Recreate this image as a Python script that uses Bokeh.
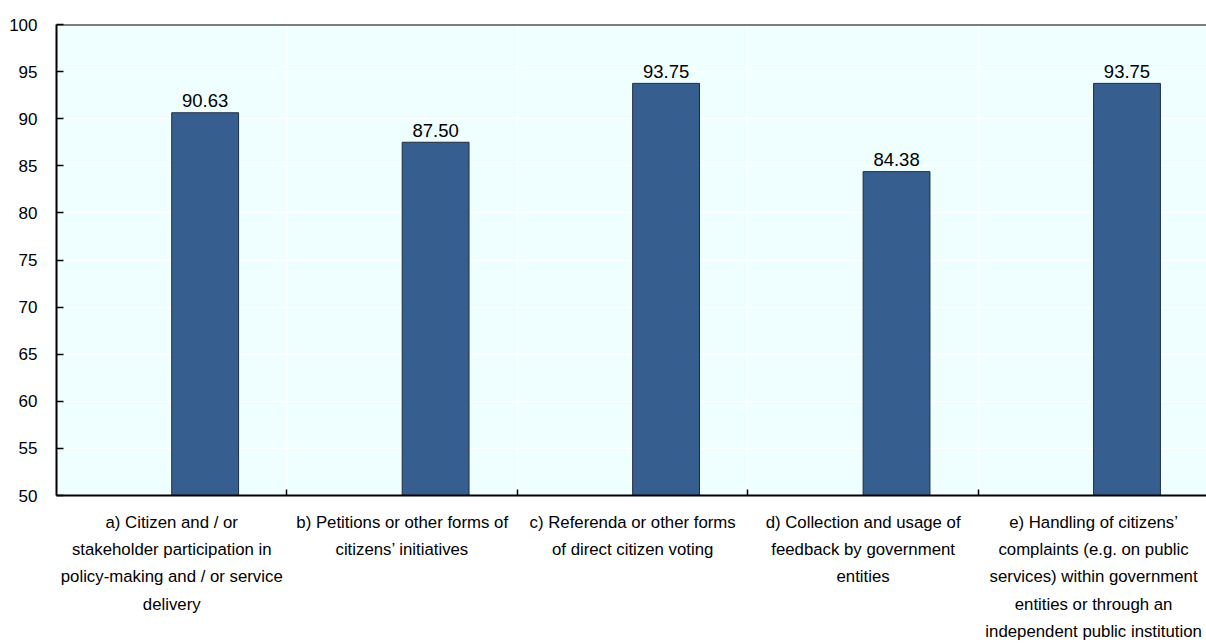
from bokeh.plotting import figure
from bokeh.models import Range1d, FixedTicker, Span, ColumnDataSource
from bokeh.core.properties import value
from bokeh.embed import file_html
from bokeh.resources import INLINE

categories = [
    "a) Citizen and / or\nstakeholder participation in\npolicy-making and / or service\ndelivery",
    "b) Petitions or other forms of\ncitizens\u2019 initiatives",
    "c) Referenda or other forms\nof direct citizen voting",
    "d) Collection and usage of\nfeedback by government\nentities",
    "e) Handling of citizens\u2019\ncomplaints (e.g. on public\nservices) within government\nentities or through an\nindependent public institution",
]
values = [90.63, 87.50, 93.75, 84.38, 93.75]
value_labels = ["90.63", "87.50", "93.75", "84.38", "93.75"]
y_ticks = [50, 55, 60, 65, 70, 75, 80, 85, 90, 95, 100]

FONT = "'Liberation Sans', Arial, sans-serif"

centers = [i + 0.5 for i in range(len(categories))]
bar_x = [c + 0.145 for c in centers]
src = ColumnDataSource(dict(x=bar_x, top=values, lab=value_labels))

p = figure(width=1206, height=643, output_backend="svg", toolbar_location=None,
           x_range=Range1d(0, 4.99), y_range=Range1d(50, 100),
           min_border_left=56, min_border_right=0, min_border_top=24, min_border_bottom=129)
p.background_fill_color = "#EFFEFF"
p.border_fill_color = "white"
p.outline_line_color = None

p.vbar(x="x", top="top", bottom=50, width=0.29, source=src,
       fill_color="#365E8F", line_color="#1E2D40", line_width=1)
p.text(x="x", y="top", text="lab", source=src, text_align="center",
       text_baseline="alphabetic", y_offset=-12,
       text_font=value(FONT), text_font_size="18.5px", text_color="#000000")

# x axis
xa = p.xaxis[0]
xa.ticker = FixedTicker(ticks=centers, minor_ticks=[1, 2, 3, 4])
xa.major_label_overrides = {c: lab for c, lab in zip(centers, categories)}
xa.major_tick_line_color = None
xa.minor_tick_in = 6
xa.minor_tick_out = 0
xa.minor_tick_line_color = "black"
xa.minor_tick_line_width = 1.5
xa.axis_line_color = "black"
xa.axis_line_width = 2
xa.major_label_text_font = FONT
xa.major_label_text_font_size = "16.8px"
xa.major_label_text_color = "#000000"
xa.major_label_text_line_height = 1.44
xa.major_label_standoff = 11

# y axis
ya = p.yaxis[0]
ya.ticker = FixedTicker(ticks=y_ticks)
ya.major_tick_in = 7
ya.major_tick_out = 0
ya.minor_tick_line_color = None
ya.axis_line_color = "black"
ya.axis_line_width = 2
ya.major_tick_line_width = 1.5
ya.major_label_text_font = FONT
ya.major_label_text_font_size = "17px"
ya.major_label_text_color = "#000000"
ya.major_label_standoff = 19

# grids
p.ygrid.grid_line_color = "white"
p.ygrid.grid_line_width = 1.5
p.ygrid.ticker = FixedTicker(ticks=y_ticks)
p.xgrid.grid_line_color = None
p.xgrid.minor_grid_line_color = "white"
p.xgrid.minor_grid_line_width = 1.5

# top border line
p.add_layout(Span(location=100, dimension="width", line_color="black", line_width=2))

open("out.html", "w").write(file_html(p, INLINE))
